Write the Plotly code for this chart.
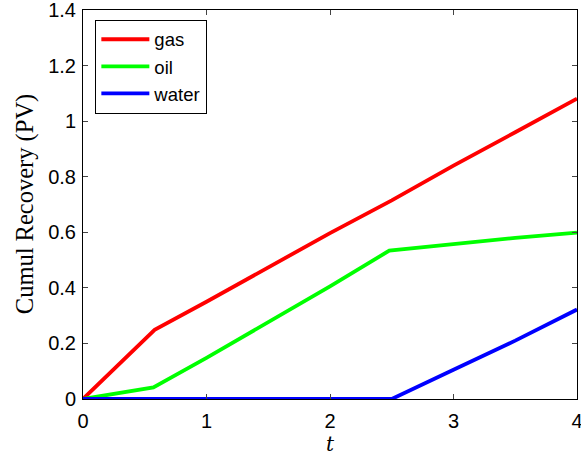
import plotly.graph_objects as go

# Data
t_gas = [0.0, 0.58, 1.0, 1.5, 2.0, 2.5, 3.0, 3.5, 4.0]
gas = [0.0, 0.249, 0.35, 0.475, 0.597, 0.715, 0.84, 0.96, 1.081]

t_oil = [0.0, 0.57, 1.0, 1.5, 2.0, 2.48, 3.0, 3.5, 4.0]
oil = [0.0, 0.042, 0.148, 0.275, 0.405, 0.534, 0.558, 0.58, 0.599]

t_water = [0.0, 2.5, 3.0, 3.5, 4.0]
water = [0.0, 0.0, 0.105, 0.21, 0.322]

x_ticks = [0, 1, 2, 3, 4]
y_ticks = [0, 0.2, 0.4, 0.6, 0.8, 1.0, 1.2, 1.4]
y_ticklabels = ["0", "0.2", "0.4", "0.6", "0.8", "1", "1.2", "1.4"]

fig = go.Figure()
fig.add_trace(go.Scatter(x=t_gas, y=gas, mode="lines", name="gas",
                         line=dict(color="#ff0000", width=3.8)))
fig.add_trace(go.Scatter(x=t_oil, y=oil, mode="lines", name="oil",
                         line=dict(color="#00ff00", width=3.8)))
fig.add_trace(go.Scatter(x=t_water, y=water, mode="lines", name="water",
                         line=dict(color="#0000ff", width=3.8)))

tickfont = dict(family="Liberation Sans, Arial, sans-serif", size=20, color="black")
fig.update_layout(
    width=581, height=456,
    margin=dict(l=83, r=4, t=10, b=57),
    paper_bgcolor="white", plot_bgcolor="white",
    showlegend=True,
    legend=dict(x=0.025, y=0.975, xanchor="left", yanchor="top",
                bordercolor="black", borderwidth=1, bgcolor="white",
                font=dict(family="Liberation Sans, Arial, sans-serif", size=18.5, color="black"),
                tracegroupgap=0, itemwidth=48),
    xaxis=dict(range=[0, 4], tickvals=x_ticks, ticks="inside", ticklen=5,
               showline=True, linecolor="black", linewidth=1, mirror="ticks",
               showgrid=False, zeroline=False, tickfont=tickfont, automargin=False,
               ticklabelstandoff=4, ticklabeloverflow="allow",
               title=dict(text="<i>t</i>", standoff=5,
                          font=dict(family="DejaVu Serif, serif", size=20, color="black"))),
    yaxis=dict(range=[0, 1.4], tickvals=y_ticks, ticktext=y_ticklabels,
               ticks="inside", ticklen=5,
               showline=True, linecolor="black", linewidth=1, mirror="ticks",
               showgrid=False, zeroline=False, tickfont=tickfont, automargin=False,
               ticklabelstandoff=2, ticklabeloverflow="allow"),
    annotations=[dict(text="Cumul Recovery (PV)", textangle=-90,
                      xref="paper", yref="paper", x=-0.118, y=0.5,
                      xanchor="center", yanchor="middle", showarrow=False,
                      font=dict(family="Liberation Serif, serif", size=24.5, color="black"))],
)

fig.write_html("out.html")
